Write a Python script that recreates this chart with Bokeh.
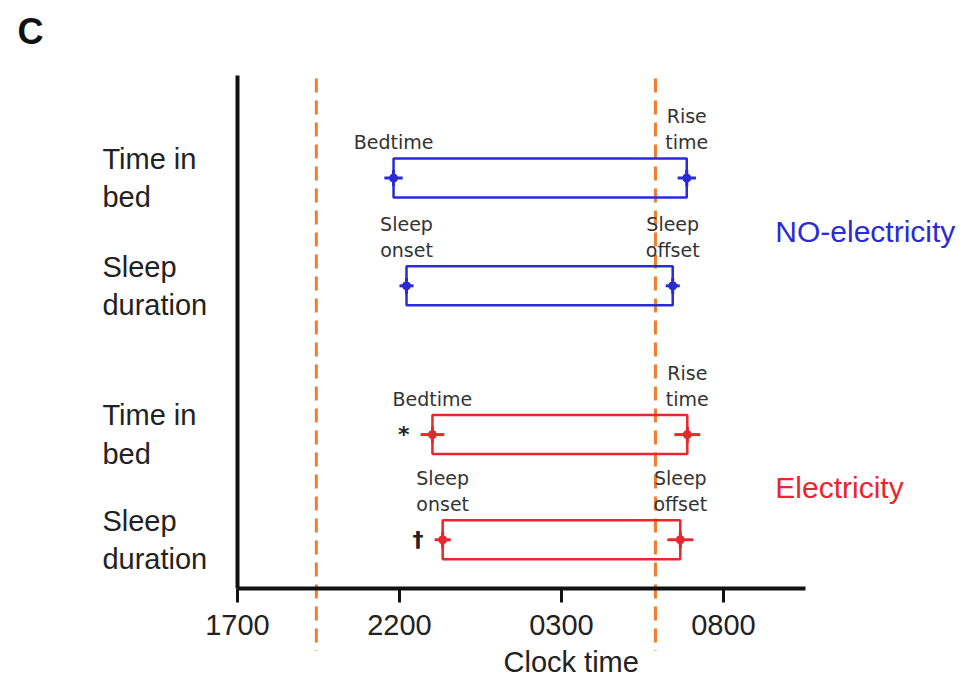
import math
from bokeh.plotting import figure
from bokeh.models import ColumnDataSource, Range1d, FixedTicker, LinearAxis
from bokeh.core.properties import value
from bokeh.embed import file_html
from bokeh.resources import INLINE

# ---------------- data (clock times HH:MM) ----------------
groups = ["NO-electricity", "NO-electricity", "Electricity", "Electricity"]
measures = ["Time in\nbed", "Sleep\nduration", "Time in\nbed", "Sleep\nduration"]
start_times = ["21:49", "22:13", "23:01", "23:20"]      # bedtime / sleep onset
end_times = ["06:52", "06:26", "06:53", "06:40"]        # rise time / sleep offset
start_err_min = [17, 13, 22, 15]
end_err_min = [17, 13, 24, 24]
start_labels = ["Bedtime", "Sleep\nonset", "Bedtime", "Sleep\nonset"]
end_labels = ["Rise\ntime", "Sleep\noffset", "Rise\ntime", "Sleep\noffset"]
significance = ["", "", "*", "\u2020"]
dark_lines = ["19:26", "05:54"]                          # sunset / sunrise
tick_hours = [0, 5, 10, 15]
tick_labels = ["1700", "2200", "0300", "0800"]
group_names = ["NO-electricity", "Electricity"]
axis_title = "Clock time"
panel_letter = "C"

# ---------------- layout / style ----------------
ORIGIN = 17.0
X_END = 17.53
row_y = [8.0, 5.9, 3.0, 0.95]
half_h = 0.38
BLUE = "#2a2ad6"
RED = "#e8262e"
TXT = "#222222"
group_colors = {"NO-electricity": BLUE, "Electricity": RED}
colors = [group_colors[g] for g in groups]


def hrs(t):
    h, m = map(int, t.split(":"))
    return ((h + m / 60.0) - ORIGIN) % 24


starts = [hrs(t) for t in start_times]
ends = [hrs(t) for t in end_times]
s_err = [e / 60.0 for e in start_err_min]
e_err = [e / 60.0 for e in end_err_min]

p = figure(width=965, height=679, x_range=Range1d(-7.315, 22.47), y_range=Range1d(-1.774, 11.462),
           output_backend="svg", toolbar_location=None,
           x_axis_location=None, y_axis_location=None, min_border=0)
p.grid.visible = False
p.outline_line_color = None
p.background_fill_color = "white"

xaxis = LinearAxis(ticker=FixedTicker(ticks=tick_hours), fixed_location=0, bounds=(0, X_END),
                   major_label_overrides={t: l for t, l in zip(tick_hours, tick_labels)})
xaxis.axis_line_width = 4
xaxis.axis_line_color = "#111111"
xaxis.major_tick_line_width = 3
xaxis.major_tick_line_color = "#111111"
xaxis.major_tick_out = 14
xaxis.major_tick_in = 0
xaxis.minor_tick_line_color = None
xaxis.major_label_standoff = 13
xaxis.major_label_text_font = "Liberation Sans"
xaxis.major_label_text_font_size = "29px"
xaxis.major_label_text_color = TXT
p.add_layout(xaxis, "below")

yaxis = LinearAxis(ticker=FixedTicker(ticks=[]), fixed_location=0, bounds=(0, 10))
yaxis.axis_line_width = 4
yaxis.axis_line_color = "#111111"
yaxis.major_tick_line_color = None
yaxis.minor_tick_line_color = None
yaxis.major_label_text_font_size = "0px"
p.add_layout(yaxis, "left")

# dashed sunset/sunrise lines (extend below the axis)
dl = [hrs(t) for t in dark_lines]
p.segment(x0=dl, x1=dl, y0=[9.94] * len(dl), y1=[-1.22] * len(dl),
          line_color="#ef7d2d", line_width=3, line_dash="14 8")

# boxes
box_src = ColumnDataSource(dict(left=starts, right=ends,
                                bottom=[y - half_h for y in row_y], top=[y + half_h for y in row_y],
                                color=colors))
p.quad(left="left", right="right", bottom="bottom", top="top", source=box_src,
       fill_color=None, line_color="color", line_width=2.5)

# mean +/- error markers
mx = starts + ends
merr = s_err + e_err
my = row_y + row_y
mc = colors + colors
m_src = ColumnDataSource(dict(x=mx, y=my, x0=[a - b for a, b in zip(mx, merr)],
                              x1=[a + b for a, b in zip(mx, merr)], color=mc))
p.segment(x0="x0", x1="x1", y0="y", y1="y", source=m_src, line_color="color", line_width=3)
p.scatter(x="x", y="y", source=m_src, marker="dash", angle=math.pi / 2, size=16,
          line_color="color", line_width=3)
p.scatter(x="x", y="y", source=m_src, marker="circle", size=8, fill_color="color", line_color="color")

# point labels
lbl_src = ColumnDataSource(dict(x=mx, y=[y + half_h + 0.1 for y in my], text=start_labels + end_labels))
p.text(x="x", y="y", text="text", source=lbl_src, text_align="center", text_baseline="bottom",
       text_font=value("DejaVu Sans"), text_font_size="19px", text_color="#333333",
       text_line_height=1.2)

# significance marks
sig_src = ColumnDataSource(dict(x=[a - b for a, b in zip(starts, s_err)], y=row_y, text=significance))
p.text(x="x", y="y", text="text", source=sig_src, text_align="right", text_baseline="middle",
       x_offset=-11, text_font=value("DejaVu Sans"), text_font_size="22px",
       text_font_style="bold", text_color=TXT)

# row labels
p.text(x=[-4.17] * len(row_y), y=row_y, text=measures, text_align="left", text_baseline="middle",
       text_font=value("Liberation Sans"), text_font_size="29px", text_color=TXT,
       text_line_height=1.2)

# group labels
gy = []
for g in group_names:
    ys = [y for y, gg in zip(row_y, groups) if gg == g]
    gy.append(sum(ys) / len(ys))
p.text(x=[16.6] * len(group_names), y=gy, text=group_names, text_align="left", text_baseline="middle",
       text_font=value("Liberation Sans"), text_font_size="30px",
       text_color=[group_colors[g] for g in group_names])

# axis title and panel letter
p.text(x=[10.3], y=[-1.44], text=[axis_title], text_align="center", text_baseline="middle",
       text_font=value("Liberation Sans"), text_font_size="29px", text_color=TXT)
p.text(x=[-6.39], y=[10.86], text=[panel_letter], text_align="center", text_baseline="middle",
       text_font=value("Liberation Sans"), text_font_size="36px", text_font_style="bold",
       text_color="#111111")

open("out.html", "w").write(file_html(p, INLINE))
